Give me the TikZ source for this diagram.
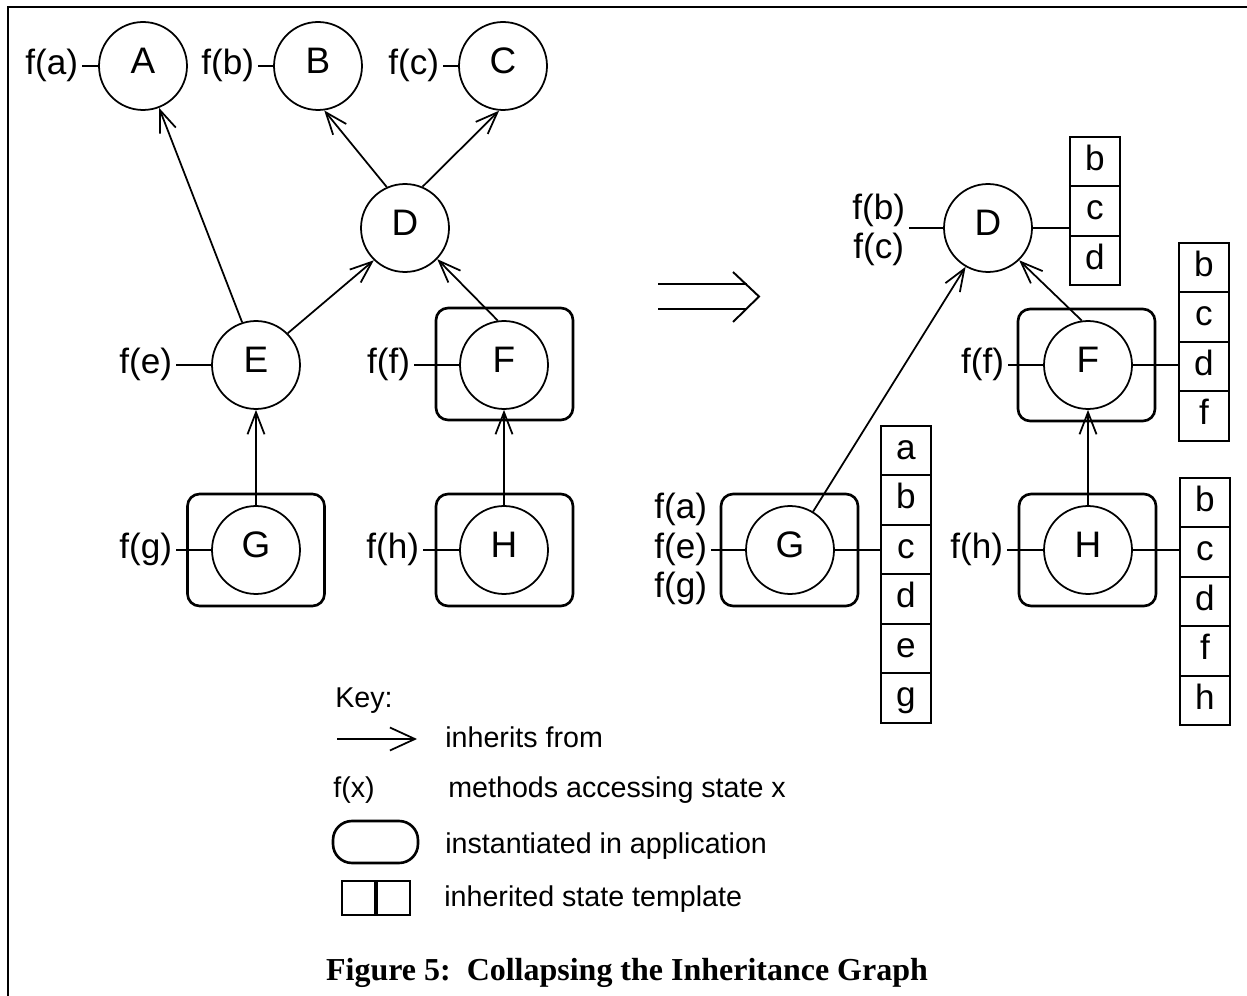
\documentclass[tikz,border=0pt]{standalone}
\usepackage{fontspec}
\setmainfont{Liberation Sans}
\newfontfamily\capfont{Liberation Serif}
\usetikzlibrary{arrows.meta}
\newcommand\stk[4]{%
  \foreach \t [count=\i from 0] in {#4} {
    \node[cell] (#1\i) at (#2, {#3+\i*49.5}) {\t};
  }%
}
\begin{document}
\begin{tikzpicture}[x=0.02cm,y=-0.02cm,
  every node/.style={inner sep=0pt},
  big/.style={font=\fontsize{20}{22.5}\selectfont},
  tx/.style={big, text height=15pt, text depth=5pt},
  cls/.style={circle, draw, line width=1pt, minimum size=1.76cm, font=\fontsize{21}{24}\selectfont, text height=15.5pt, text depth=7pt},
  inst/.style={draw, line width=1.5pt, rounded corners=0.24cm, minimum width=2.74cm, minimum height=2.24cm},
  cell/.style={draw, line width=1pt, minimum width=1cm, minimum height=0.99cm, anchor=north west, tx},
  meth/.style={anchor=east, inner sep=2pt, tx},
  methm/.style={anchor=east, inner sep=2pt, big, align=center},
  conn/.style={line width=1pt},
  inh/.style={line width=1pt, -{Straight Barb[length=0.44cm, width=0.34cm, line width=1pt]}},
  keytext/.style={anchor=west, font=\fontsize{16.3}{19}\selectfont, text height=12.2pt, text depth=4.1pt}
]
\useasboundingbox (0,0) rectangle (1247,996);
% frame
\coordinate (fr1) at (8,996);
\coordinate (fr2) at (8,7);
\coordinate (fr3) at (1247,7);
\draw[line width=1.5pt] (fr1) -- (fr2) -- (fr3);

% ---------- left graph ----------
\node[inst] (Fbox) at (504.5,364) {};
\node[inst] (Gbox) at (256,550) {};
\node[inst] (Hbox) at (504.5,550) {};

\node[cls] (A) at (143,66) {A};
\node[cls] (B) at (318,66) {B};
\node[cls] (C) at (503,66) {C};
\node[cls] (D) at (405,228) {D};
\node[cls] (E) at (256,365) {E};
\node[cls] (F) at (504,365) {F};
\node[cls] (G) at (256,550) {G};
\node[cls] (H) at (504,550) {H};

\node[meth] (fa) at (82,66) {f(a)};
\node[meth] (fb) at (258,66) {f(b)};
\node[meth] (fc) at (443,66) {f(c)};
\node[meth] (fe) at (176,365) {f(e)};
\node[meth] (ff) at (414,365) {f(f)};
\node[meth] (fg) at (176,550) {f(g)};
\node[meth] (fh) at (423,550) {f(h)};

\foreach \n/\m in {A/fa,B/fb,C/fc,E/fe,F/ff,G/fg,H/fh}
  \draw[conn] (\n.west -| \m.east) -- (\n.west);

\draw[inh] (E.108) -- (A.-69);
\draw[inh] (E.45) -- (D.226);
\draw[inh] (F.98) -- (D.-44.5);
\draw[inh] (D.114) -- (B.-82);
\draw[inh] (D.67.5) -- (C.-95);
\draw[inh] (G) -- (E);
\draw[inh] (H) -- (F);

% ---------- implication arrow ----------
\coordinate (i1) at (658,284);
\coordinate (i2) at (747,284);
\coordinate (i3) at (658,309);
\coordinate (i4) at (747,309);
\coordinate (it) at (759,296.5);
\coordinate (ib1) at (733,272);
\coordinate (ib2) at (733,322);
\draw[line width=1.1pt] (i1) -- (i2);
\draw[line width=1.1pt] (i3) -- (i4);
\draw[line width=1.1pt] (ib1) -- (it) -- (ib2);

% ---------- right graph ----------
\node[inst] (Fpbox) at (1086.5,365) {};
\node[inst] (Gpbox) at (789.5,550) {};
\node[inst] (Hpbox) at (1087.5,550) {};

\node[cls] (Dp) at (988,228) {D};
\node[cls] (Fp) at (1088,365) {F};
\node[cls] (Gp) at (790,550) {G};
\node[cls] (Hp) at (1088,550) {H};

\node[methm] (fbc) at (909,230) {f(b)\\f(c)};
\node[meth] (ffp) at (1008,365) {f(f)};
\node[methm] (faeg) at (711,549) {f(a)\\f(e)\\f(g)};
\node[meth] (fhp) at (1007,550) {f(h)};

\draw[conn] (Dp.west -| fbc.east) -- (Dp.west);
\foreach \n/\m in {Fp/ffp,Gp/faeg,Hp/fhp}
  \draw[conn] (\n.west -| \m.east) -- (\n.west);

\stk{Ds}{1069}{136}{b,c,d}
\stk{Fs}{1178}{242}{b,c,d,f}
\stk{Gs}{880}{425}{a,b,c,d,e,g}
\stk{Hs}{1179}{477}{b,c,d,f,h}

\draw[conn] (Dp.east) -- (Dp.east -| Ds0.west);
\draw[conn] (Fp.east) -- (Fp.east -| Fs0.west);
\draw[conn] (Gp.east) -- (Gp.east -| Gs0.west);
\draw[conn] (Hp.east) -- (Hp.east -| Hs0.west);

\draw[inh] (Gp.59) -- (Dp.-120.5);
\draw[inh] (Fp.98) -- (Dp.-46);
\draw[inh] (Hp) -- (Fp);

% ---------- key ----------
\node[keytext] (key) at (335,700) {Key:};
\coordinate (ka) at (337,739);
\coordinate (kb) at (417,739);
\draw[line width=1pt, -{Straight Barb[length=0.5cm, width=0.46cm, line width=1pt]}] (ka) -- (kb);
\node[keytext] (k1) at (445,740) {inherits from};
\node[keytext] (kfx) at (333,790) {f(x)};
\node[keytext] (k2) at (448,790) {methods accessing state x};
\node[draw, line width=1.5pt, rounded corners=0.38cm, minimum width=1.7cm, minimum height=0.84cm] (kinst) at (375.5,842) {};
\node[keytext] (k3) at (445,846) {instantiated in application};
\node[draw, line width=1pt, minimum width=0.66cm, minimum height=0.68cm] (ks1) at (358.5,898) {};
\node[draw, line width=1pt, minimum width=0.66cm, minimum height=0.68cm] (ks2) at (393.5,898) {};
\node[keytext] (k4) at (444,899) {inherited state template};

\node[font={\fontsize{18.2}{20}\capfont\bfseries}, text height=13.5pt, text depth=4.5pt] (cap) at (627,973) {Figure 5:\ \ Collapsing the Inheritance Graph};
\end{tikzpicture}
\end{document}
